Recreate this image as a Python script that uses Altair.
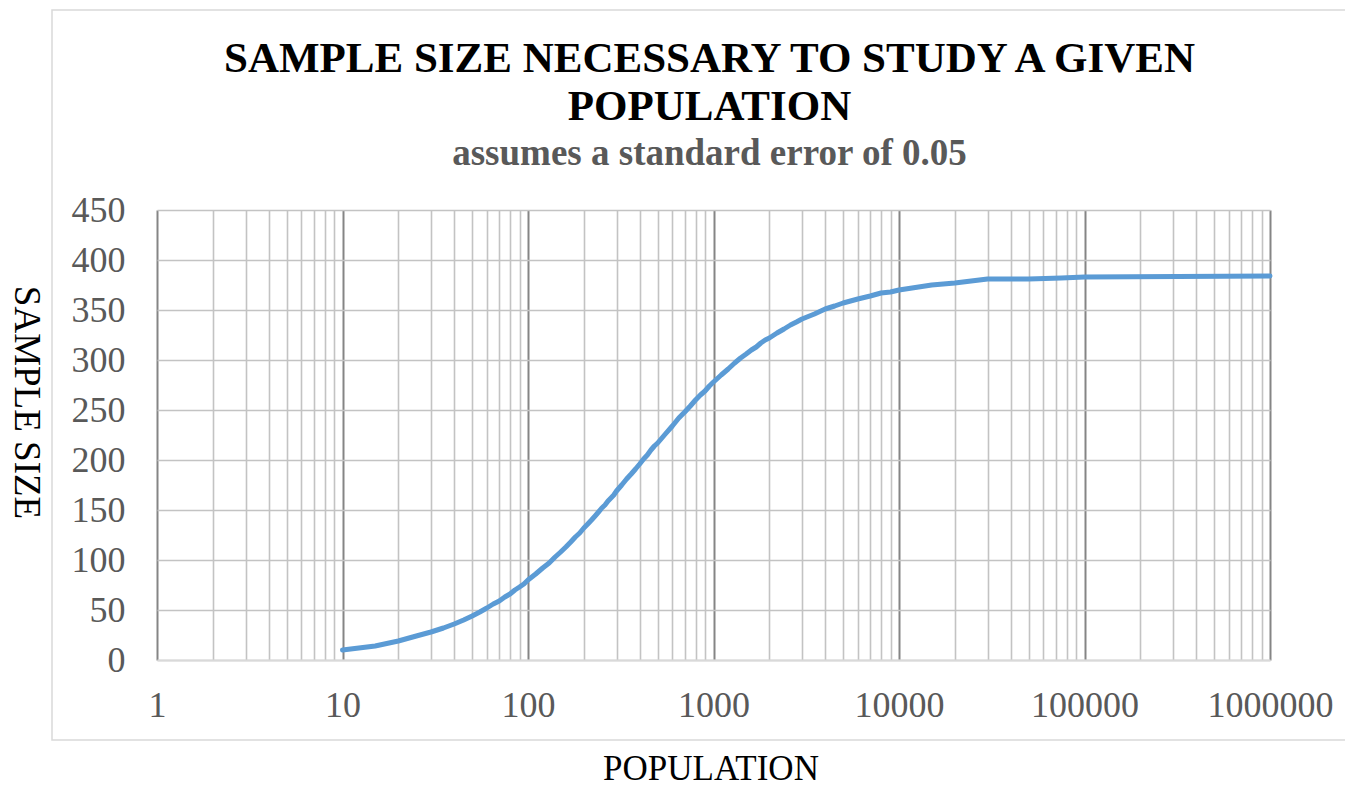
import altair as alt
import pandas as pd

# ---- data ----
population = [10, 15, 20, 25, 30, 35, 40, 45, 50, 55, 60, 65, 70, 75, 80, 85, 90, 95,
              100, 110, 120, 130, 140, 150, 160, 170, 180, 190, 200, 210, 220, 230, 240,
              250, 260, 270, 280, 290, 300, 320, 340, 360, 380, 400, 420, 440, 460, 480,
              500, 550, 600, 650, 700, 750, 800, 850, 900, 950, 1000, 1100, 1200, 1300,
              1400, 1500, 1600, 1700, 1800, 1900, 2000, 2200, 2400, 2600, 2800, 3000,
              3500, 4000, 4500, 5000, 6000, 7000, 8000, 9000, 10000, 15000, 20000,
              30000, 40000, 50000, 75000, 100000, 1000000]
sample_size = [10, 14, 19, 24, 28, 32, 36, 40, 44, 48, 52, 56, 59, 63, 66, 70, 73, 76,
               80, 86, 92, 97, 103, 108, 113, 118, 123, 127, 132, 136, 140, 144, 148,
               152, 155, 159, 162, 165, 169, 175, 181, 186, 191, 196, 201, 205, 210, 214,
               217, 226, 234, 242, 248, 254, 260, 265, 269, 274, 278, 285, 291, 297,
               302, 306, 310, 313, 317, 320, 322, 327, 331, 335, 338, 341,
               346, 351, 354, 357, 361, 364, 367, 368, 370, 375, 377,
               381, 381, 381, 382, 383, 384]

major_ticks = [1, 10, 100, 1000, 10000, 100000, 1000000]
x_ticks = [m * 10 ** d for d in range(6) for m in range(1, 10)] + [1000000]
y_ticks = [0, 50, 100, 150, 200, 250, 300, 350, 400, 450]

title_line1 = "SAMPLE SIZE NECESSARY TO STUDY A GIVEN"
title_line2 = "POPULATION"
subtitle = "assumes a standard error of 0.05"
x_title = "POPULATION"
y_title = "SAMPLE SIZE"

W, H = 1113, 450
FONT = "Liberation Serif"

df = pd.DataFrame({"population": population, "sample": sample_size})

major_test = "indexof([" + ",".join(str(v) for v in major_ticks) + "], datum.value) >= 0"

x_axis = alt.Axis(
    values=x_ticks,
    labelExpr=f"({major_test}) ? format(datum.value, 'd') : ''",
    labelOverlap=False,
    labelFlush=False,
    labelFont=FONT, labelFontSize=36, labelColor="#595959",
    labelBaseline="alphabetic", labelPadding=56,
    ticks=False,
    grid=True,
    gridColor={"condition": {"test": major_test, "value": "#858585"}, "value": "#c3c3c3"},
    gridWidth={"condition": {"test": major_test, "value": 2}, "value": 1.6},
    domainColor="#d9d9d9", domainWidth=2,
    title=x_title, titleFont=FONT, titleFontSize=35, titleFontWeight="normal",
    titleColor="black", titleX=W / 2 - 3, titleY=119, titleBaseline="alphabetic",
    titleAlign="center",
)

y_axis = alt.Axis(
    values=y_ticks,
    labelFont=FONT, labelFontSize=36, labelColor="#595959", labelPadding=32,
    ticks=False, domain=False,
    grid=True, gridColor="#c3c3c3", gridWidth=1.6,
    title=y_title, titleFont=FONT, titleFontSize=37, titleFontWeight="normal",
    titleColor="black", titleAngle=90, titleX=-132, titleY=192,
    titleBaseline="middle", titleAlign="center",
)

line = alt.Chart(df).mark_line(
    color="#5b9bd5", strokeWidth=5, strokeCap="round", strokeJoin="round"
).encode(
    x=alt.X("population:Q", scale=alt.Scale(type="log", domain=[1, 1000000], nice=False),
            axis=x_axis),
    y=alt.Y("sample:Q", scale=alt.Scale(domain=[0, 450], nice=False, zero=True),
            axis=y_axis),
)

one = pd.DataFrame({"k": [0]})

border = alt.Chart(one).mark_rect(
    fill=None, stroke="#d9d9d9", strokeWidth=1.5
).encode(
    x=alt.value(-105), x2=alt.value(1230), y=alt.value(-200), y2=alt.value(530)
)

def text_layer(txt, y, size, color, weight="bold"):
    return alt.Chart(pd.DataFrame({"t": [txt]})).mark_text(
        font=FONT, fontSize=size, fontWeight=weight, color=color,
        align="center", baseline="alphabetic"
    ).encode(text="t:N", x=alt.value(W / 2 - 4), y=alt.value(y))

t1 = text_layer(title_line1, -138, 43, "black")
t2 = text_layer(title_line2, -90, 43, "black")
t3 = text_layer(subtitle, -45, 37, "#595959")

chart = alt.layer(border, line, t1, t2, t3).properties(
    width=W, height=H,
    autosize=alt.AutoSizeParams(type="none"),
    padding={"left": 149, "top": 202, "right": 75, "bottom": 129},
).configure_view(stroke=None)

chart.save("out.html", embed_options={"renderer": "svg", "actions": False})
